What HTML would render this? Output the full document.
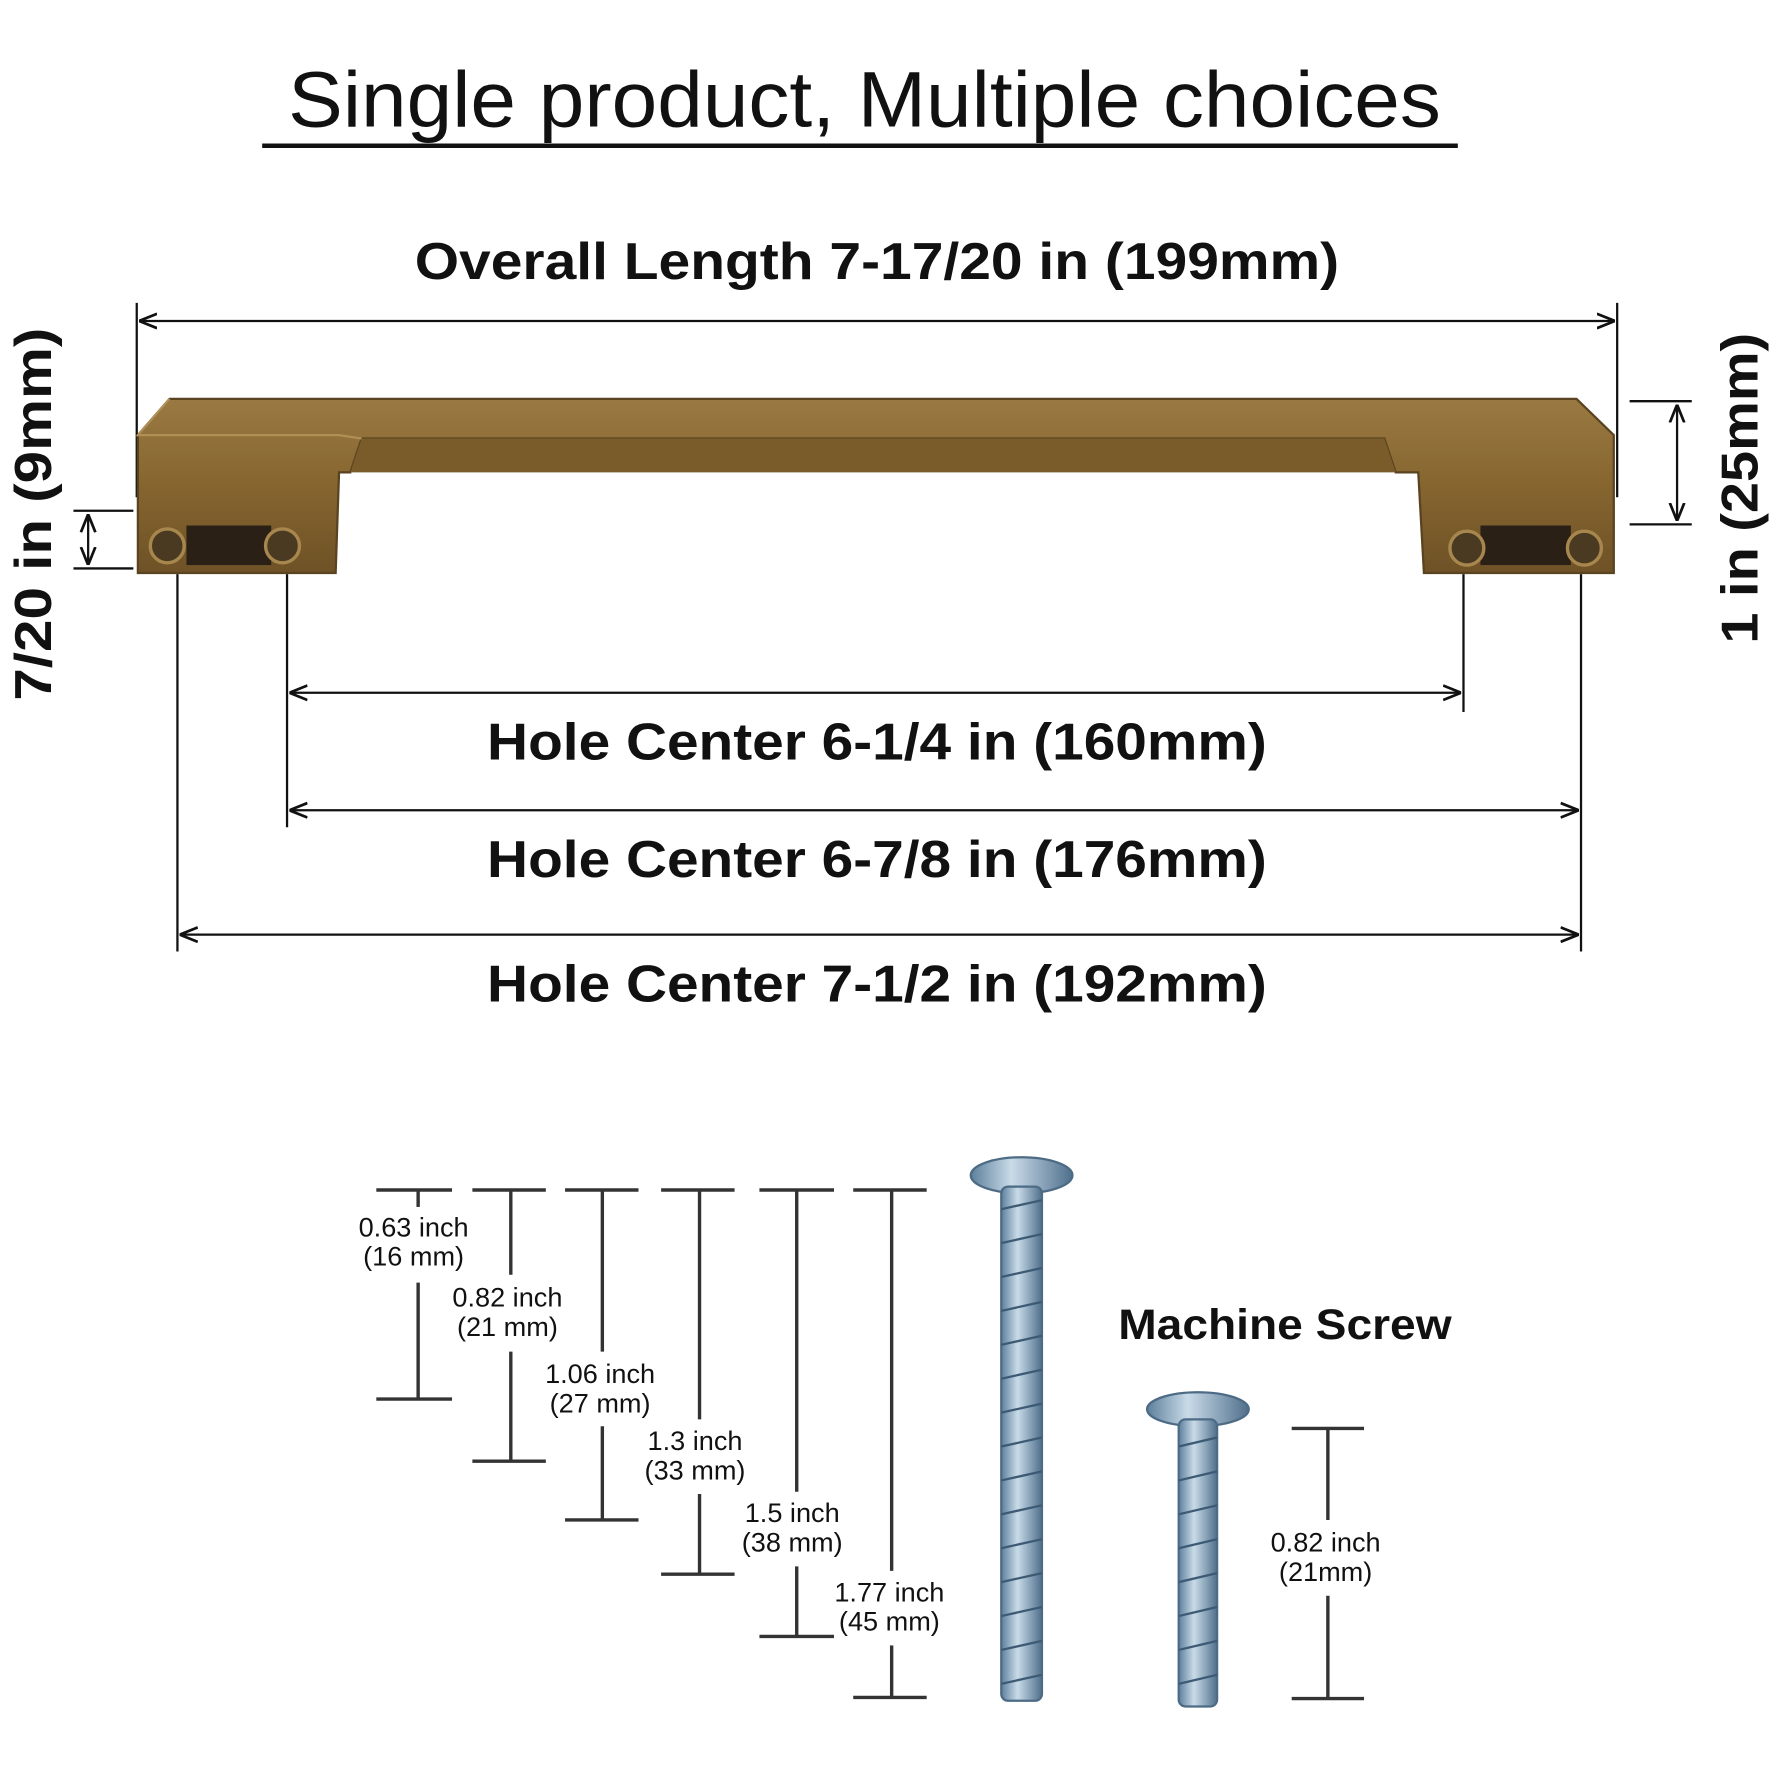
<!DOCTYPE html>
<html><head><meta charset="utf-8"><style>
html,body{margin:0;padding:0;background:#fff}
svg{display:block}
text{font-family:"Liberation Sans",sans-serif;fill:#111}
</style></head><body>
<svg width="1772" height="1772" viewBox="0 0 1568 1568" xmlns="http://www.w3.org/2000/svg">
<defs>
<linearGradient id="br" x1="0" y1="0" x2="0" y2="1">
<stop offset="0" stop-color="#9a7a42"/><stop offset="0.5" stop-color="#86652f"/><stop offset="1" stop-color="#6e5226"/>
</linearGradient>
<linearGradient id="sc" x1="0" y1="0" x2="1" y2="0">
<stop offset="0" stop-color="#5d7f9c"/><stop offset="0.4" stop-color="#c9dbe8"/><stop offset="1" stop-color="#4f6f8c"/>
</linearGradient>
<marker id="a" viewBox="0 0 10 10" refX="10" refY="5" markerWidth="8" markerHeight="8" orient="auto-start-reverse"><path d="M0,1 L10,5 L0,9" fill="none" stroke="#111" stroke-width="1.5"/></marker>
</defs>
<text x="765" y="112" font-size="70" text-anchor="middle" textLength="1020" lengthAdjust="spacingAndGlyphs">Single product, Multiple choices</text>
<line x1="232" y1="129" x2="1290" y2="129" stroke="#111" stroke-width="4"/>
<text x="776" y="247" font-size="46" font-weight="bold" text-anchor="middle" textLength="818" lengthAdjust="spacingAndGlyphs">Overall Length 7-17/20 in (199mm)</text>
<g stroke="#111" stroke-width="2" fill="none">
<line x1="121" y1="268" x2="121" y2="440"/><line x1="1431" y1="268" x2="1431" y2="440"/>
<line x1="123" y1="284" x2="1429" y2="284" marker-start="url(#a)" marker-end="url(#a)"/>
<line x1="65" y1="452" x2="118" y2="452"/><line x1="65" y1="503" x2="118" y2="503"/>
<line x1="78" y1="455" x2="78" y2="500" marker-start="url(#a)" marker-end="url(#a)"/>
<line x1="1442" y1="355" x2="1497" y2="355"/><line x1="1442" y1="464" x2="1497" y2="464"/>
<line x1="1484" y1="358" x2="1484" y2="461" marker-start="url(#a)" marker-end="url(#a)"/>
<line x1="157" y1="508" x2="157" y2="842"/><line x1="254" y1="508" x2="254" y2="732"/>
<line x1="1295" y1="508" x2="1295" y2="630"/><line x1="1399" y1="508" x2="1399" y2="842"/>
<line x1="256" y1="613" x2="1293" y2="613" marker-start="url(#a)" marker-end="url(#a)"/>
<line x1="256" y1="717" x2="1397" y2="717" marker-start="url(#a)" marker-end="url(#a)"/>
<line x1="159" y1="827" x2="1397" y2="827" marker-start="url(#a)" marker-end="url(#a)"/>
</g>
<text transform="translate(45,455) rotate(-90)" font-size="46" font-weight="bold" text-anchor="middle" textLength="330" lengthAdjust="spacingAndGlyphs">7/20 in (9mm)</text>
<text transform="translate(1555,432) rotate(-90)" font-size="46" font-weight="bold" text-anchor="middle" textLength="275" lengthAdjust="spacingAndGlyphs">1 in (25mm)</text>
<text x="776" y="672" font-size="46" font-weight="bold" text-anchor="middle" textLength="690" lengthAdjust="spacingAndGlyphs">Hole Center 6-1/4 in (160mm)</text>
<text x="776" y="776" font-size="46" font-weight="bold" text-anchor="middle" textLength="690" lengthAdjust="spacingAndGlyphs">Hole Center 6-7/8 in (176mm)</text>
<text x="776" y="886" font-size="46" font-weight="bold" text-anchor="middle" textLength="690" lengthAdjust="spacingAndGlyphs">Hole Center 7-1/2 in (192mm)</text>
<!-- handle -->
<path d="M150,353 L1395,353 L1428,385 L1428,507 L1260,507 L1255,418 L1235,418 L1225,388 L320,388 L310,418 L300,418 L297,507 L122,507 L122,385 Z" fill="url(#br)" stroke="#5a4320" stroke-width="2"/>
<path d="M150,353 L122,385 L300,385 L320,388" fill="none" stroke="#b08f55" stroke-width="2"/>
<path d="M310,418 L320,388 L1225,388 L1235,418 Z" fill="#7a5b2a"/>
<rect x="165" y="465" width="75" height="35" fill="#2a2016"/>
<circle cx="148" cy="483" r="15" fill="#4b3a22" stroke="#a8874e" stroke-width="3"/>
<circle cx="250" cy="483" r="15" fill="#4b3a22" stroke="#a8874e" stroke-width="3"/>
<rect x="1310" y="465" width="80" height="35" fill="#2a2016"/>
<circle cx="1298" cy="485" r="15" fill="#4b3a22" stroke="#a8874e" stroke-width="3"/>
<circle cx="1402" cy="485" r="15" fill="#4b3a22" stroke="#a8874e" stroke-width="3"/>
<!-- screw dims -->
<g stroke="#333" stroke-width="3">
<line x1="333" y1="1053" x2="400" y2="1053"/><line x1="418" y1="1053" x2="483" y2="1053"/><line x1="500" y1="1053" x2="565" y2="1053"/><line x1="585" y1="1053" x2="650" y2="1053"/><line x1="672" y1="1053" x2="738" y2="1053"/><line x1="755" y1="1053" x2="820" y2="1053"/>
<line x1="333" y1="1238" x2="400" y2="1238"/><line x1="418" y1="1293" x2="483" y2="1293"/><line x1="500" y1="1345" x2="565" y2="1345"/><line x1="585" y1="1393" x2="650" y2="1393"/><line x1="672" y1="1448" x2="738" y2="1448"/><line x1="755" y1="1502" x2="820" y2="1502"/>
<line x1="370" y1="1053" x2="370" y2="1068"/><line x1="370" y1="1135" x2="370" y2="1238"/>
<line x1="452" y1="1053" x2="452" y2="1128"/><line x1="452" y1="1196" x2="452" y2="1293"/>
<line x1="533" y1="1053" x2="533" y2="1196"/><line x1="533" y1="1262" x2="533" y2="1345"/>
<line x1="619" y1="1053" x2="619" y2="1256"/><line x1="619" y1="1322" x2="619" y2="1393"/>
<line x1="705" y1="1053" x2="705" y2="1320"/><line x1="705" y1="1386" x2="705" y2="1448"/>
<line x1="789" y1="1053" x2="789" y2="1390"/><line x1="789" y1="1456" x2="789" y2="1502"/>
<line x1="1143" y1="1264" x2="1207" y2="1264"/><line x1="1143" y1="1503" x2="1207" y2="1503"/>
<line x1="1175" y1="1264" x2="1175" y2="1345"/><line x1="1175" y1="1412" x2="1175" y2="1503"/>
</g>
<g font-size="24" text-anchor="middle">
<text x="366" y="1094">0.63 inch</text><text x="366" y="1120">(16 mm)</text>
<text x="449" y="1156">0.82 inch</text><text x="449" y="1182">(21 mm)</text>
<text x="531" y="1224">1.06 inch</text><text x="531" y="1250">(27 mm)</text>
<text x="615" y="1283">1.3 inch</text><text x="615" y="1309">(33 mm)</text>
<text x="701" y="1347">1.5 inch</text><text x="701" y="1373">(38 mm)</text>
<text x="787" y="1417">1.77 inch</text><text x="787" y="1443">(45 mm)</text>
<text x="1173" y="1373">0.82 inch</text><text x="1173" y="1399">(21mm)</text>
</g>
<text x="1137" y="1185" font-size="38" font-weight="bold" text-anchor="middle" fill="#333" textLength="295" lengthAdjust="spacingAndGlyphs">Machine Screw</text>
<!-- screws -->
<ellipse cx="904" cy="1040" rx="45" ry="16" fill="url(#sc)" stroke="#4d6b85" stroke-width="2"/>
<rect x="886" y="1050" width="36" height="455" rx="6" fill="url(#sc)" stroke="#4d6b85" stroke-width="2"/>
<g stroke="#3d5a74" stroke-width="2">
<path d="M886,1070 L922,1062 M886,1100 L922,1092 M886,1130 L922,1122 M886,1160 L922,1152 M886,1190 L922,1182 M886,1220 L922,1212 M886,1250 L922,1242 M886,1280 L922,1272 M886,1310 L922,1302 M886,1340 L922,1332 M886,1370 L922,1362 M886,1400 L922,1392 M886,1430 L922,1422 M886,1460 L922,1452 M886,1490 L922,1482"/>
</g>
<ellipse cx="1060" cy="1247" rx="45" ry="15" fill="url(#sc)" stroke="#4d6b85" stroke-width="2"/>
<rect x="1043" y="1256" width="34" height="254" rx="6" fill="url(#sc)" stroke="#4d6b85" stroke-width="2"/>
<g stroke="#3d5a74" stroke-width="2">
<path d="M1043,1280 L1077,1272 M1043,1310 L1077,1302 M1043,1340 L1077,1332 M1043,1370 L1077,1362 M1043,1400 L1077,1392 M1043,1430 L1077,1422 M1043,1460 L1077,1452 M1043,1490 L1077,1482"/>
</g>
</svg>
</body></html>
